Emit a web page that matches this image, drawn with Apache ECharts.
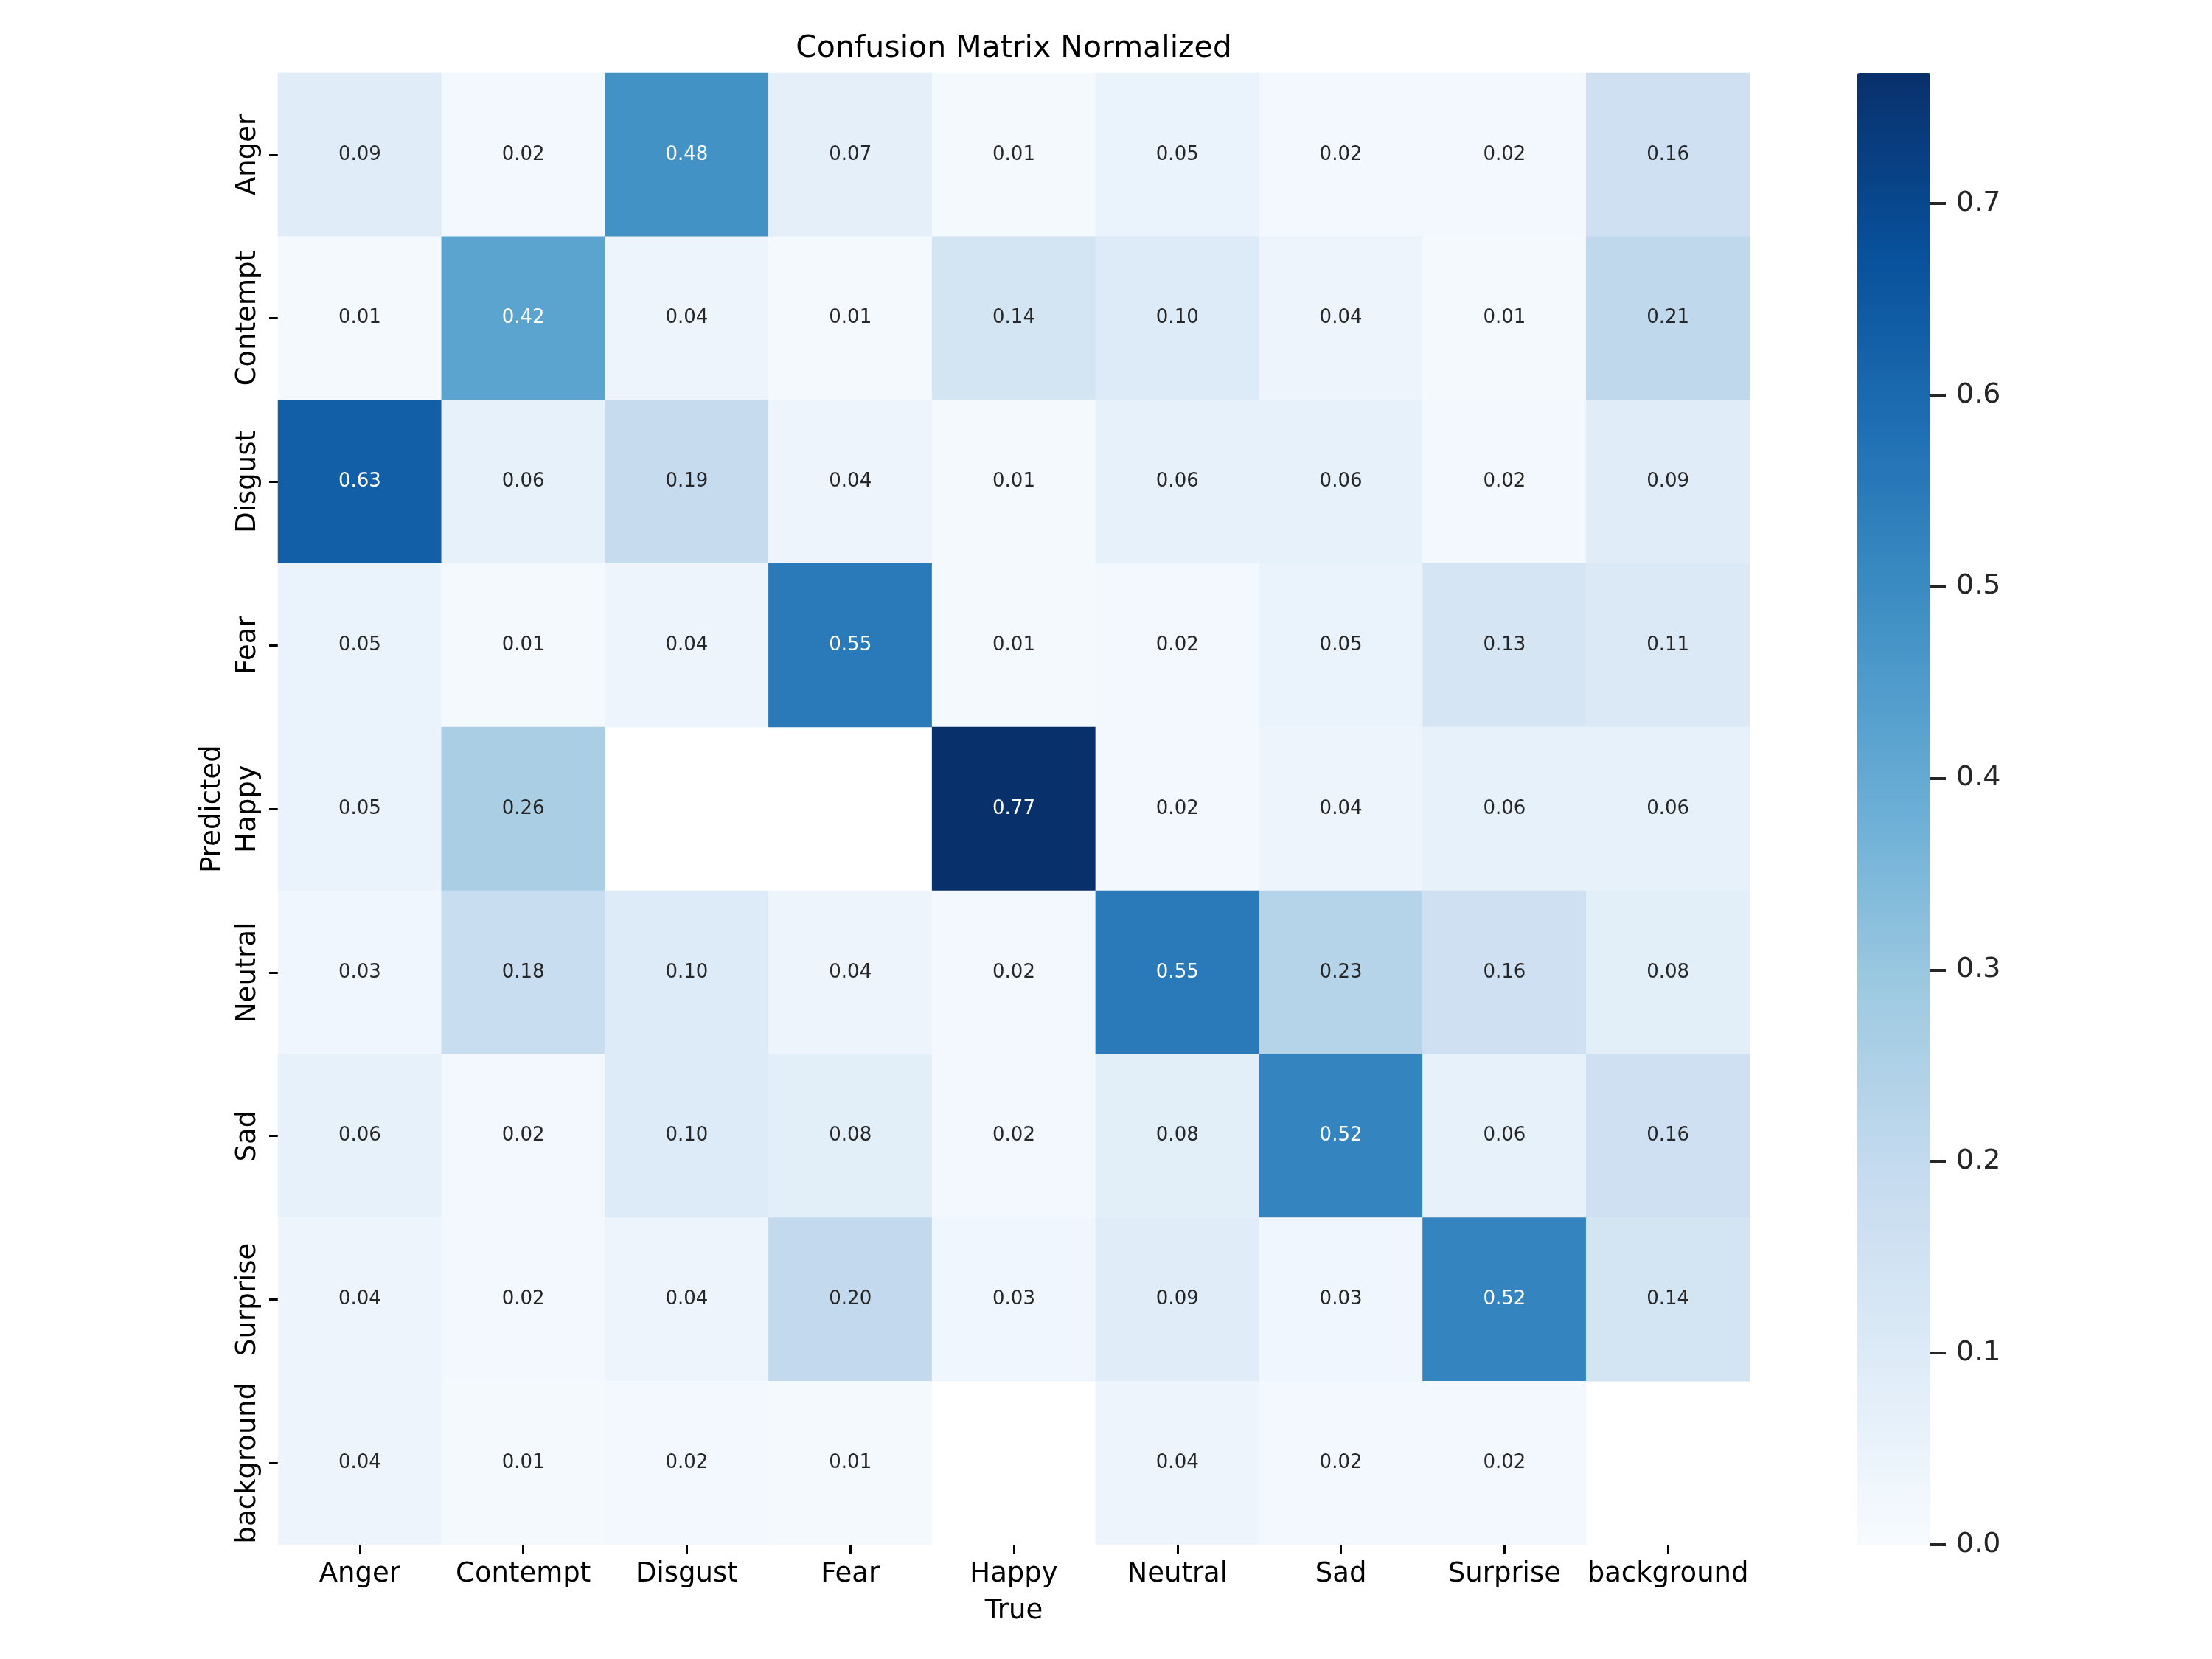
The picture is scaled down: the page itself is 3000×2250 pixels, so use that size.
<!DOCTYPE html>
<html>
<head>
<meta charset="utf-8">
<title>Confusion Matrix Normalized</title>
<script src="https://cdn.jsdelivr.net/npm/echarts@6/dist/echarts.min.js"></script>
<style>
  html, body { margin: 0; padding: 0; background: #fff; }
  #chart { width: 3000px; height: 2250px; }
</style>
</head>
<body>
<div id="chart"></div>
<script>
// class names, used on both axes
var classes = ['Anger', 'Contempt', 'Disgust', 'Fear', 'Happy', 'Neutral', 'Sad', 'Surprise', 'background'];

// one array per predicted row, values per true column (null = empty cell)
var predAnger      = [0.09, 0.02, 0.48, 0.07, 0.01, 0.05, 0.02, 0.02, 0.16];
var predContempt   = [0.01, 0.42, 0.04, 0.01, 0.14, 0.10, 0.04, 0.01, 0.21];
var predDisgust    = [0.63, 0.06, 0.19, 0.04, 0.01, 0.06, 0.06, 0.02, 0.09];
var predFear       = [0.05, 0.01, 0.04, 0.55, 0.01, 0.02, 0.05, 0.13, 0.11];
var predHappy      = [0.05, 0.26, null, null, 0.77, 0.02, 0.04, 0.06, 0.06];
var predNeutral    = [0.03, 0.18, 0.10, 0.04, 0.02, 0.55, 0.23, 0.16, 0.08];
var predSad        = [0.06, 0.02, 0.10, 0.08, 0.02, 0.08, 0.52, 0.06, 0.16];
var predSurprise   = [0.04, 0.02, 0.04, 0.20, 0.03, 0.09, 0.03, 0.52, 0.14];
var predBackground = [0.04, 0.01, 0.02, 0.01, null, 0.04, 0.02, 0.02, null];

var rows = [predAnger, predContempt, predDisgust, predFear, predHappy,
            predNeutral, predSad, predSurprise, predBackground];

// colorbar range and ticks
var cbarMax = 0.768;
var cbarTicks = [0.0, 0.1, 0.2, 0.3, 0.4, 0.5, 0.6, 0.7];

// matplotlib "Blues"
var blues = ['#f7fbff', '#deebf7', '#c6dbef', '#9ecae1', '#6baed6',
             '#4292c6', '#2171b5', '#08519c', '#08306b'];

var cells = [];
rows.forEach(function (row, y) {
    row.forEach(function (v, x) {
        if (v === null) return;
        cells.push({
            value: [x, y, v],
            label: { color: v > 0.35 ? '#ffffff' : '#262626' }
        });
    });
});

var font = 'DejaVu Sans';

var chart = echarts.init(document.getElementById('chart'));
chart.setOption({
    backgroundColor: '#ffffff',
    animation: false,
    textStyle: { fontFamily: font },
    graphic: [{
        type: 'text',
        x: 1375,
        y: 66,
        style: {
            text: 'Confusion Matrix Normalized',
            fontFamily: font,
            fontSize: 41,
            fill: '#000',
            textAlign: 'center',
            textVerticalAlign: 'middle'
        }
    }],
    grid: [
        { left: 377, top: 99, width: 1996, height: 1996 },
        // colorbar axis, 0 .. 0.7 part of the bar
        { left: 2519, top: 99 + 1996 * (cbarMax - 0.7) / cbarMax, width: 99, height: 1996 * 0.7 / cbarMax, z: 10 }
    ],
    xAxis: [{
        type: 'category',
        gridIndex: 0,
        data: classes,
        position: 'bottom',
        name: 'True',
        nameLocation: 'middle',
        nameGap: 72,
        nameTextStyle: { fontSize: 37, color: '#000', fontFamily: font },
        axisLine: { show: false },
        axisTick: { show: true, alignWithLabel: true, length: 12, lineStyle: { color: '#000', width: 3 } },
        axisLabel: { fontSize: 37, color: '#000', margin: 22, interval: 0 },
        splitLine: { show: false }
    }, {
        type: 'category',
        gridIndex: 1,
        data: [''],
        show: false
    }],
    yAxis: [{
        type: 'category',
        gridIndex: 0,
        data: classes,
        inverse: true,
        name: 'Predicted',
        nameLocation: 'middle',
        nameGap: 70,
        nameRotate: 90,
        nameTextStyle: { fontSize: 37, color: '#000', fontFamily: font },
        axisLine: { show: false },
        axisTick: { show: true, alignWithLabel: true, length: 12, lineStyle: { color: '#000', width: 3 } },
        axisLabel: { fontSize: 37, color: '#000', margin: 22, rotate: 90, interval: 0 },
        splitLine: { show: false }
    }, {
        type: 'value',
        gridIndex: 1,
        position: 'right',
        min: cbarTicks[0],
        max: cbarTicks[cbarTicks.length - 1],
        interval: 0.1,
        z: 10,
        axisLine: { show: true, onZero: false, lineStyle: { color: 'rgba(0,0,0,0)', width: 0 } },
        axisTick: { show: true, inside: false, length: 21, lineStyle: { color: '#262626', width: 4 } },
        axisLabel: {
            fontSize: 38, color: '#262626', margin: 35,
            formatter: function (v) { return v.toFixed(1); }
        },
        splitLine: { show: false }
    }],
    visualMap: {
        type: 'continuous',
        seriesIndex: 0,
        min: 0,
        max: cbarMax,
        calculable: false,
        hoverLink: false,
        realtime: false,
        orient: 'vertical',
        left: 2519,
        top: 99,
        itemWidth: 99,
        itemHeight: 1996,
        padding: 0,
        z: 1,
        text: null,
        showLabel: false,
        inRange: { color: blues }
    },
    series: [{
        type: 'heatmap',
        xAxisIndex: 0,
        yAxisIndex: 0,
        data: cells,
        label: {
            show: true,
            fontSize: 26,
            fontFamily: font,
            formatter: function (p) { return p.value[2].toFixed(2); }
        },
        itemStyle: { borderWidth: 0 },
        emphasis: { disabled: true }
    }]
});
</script>
</body>
</html>
